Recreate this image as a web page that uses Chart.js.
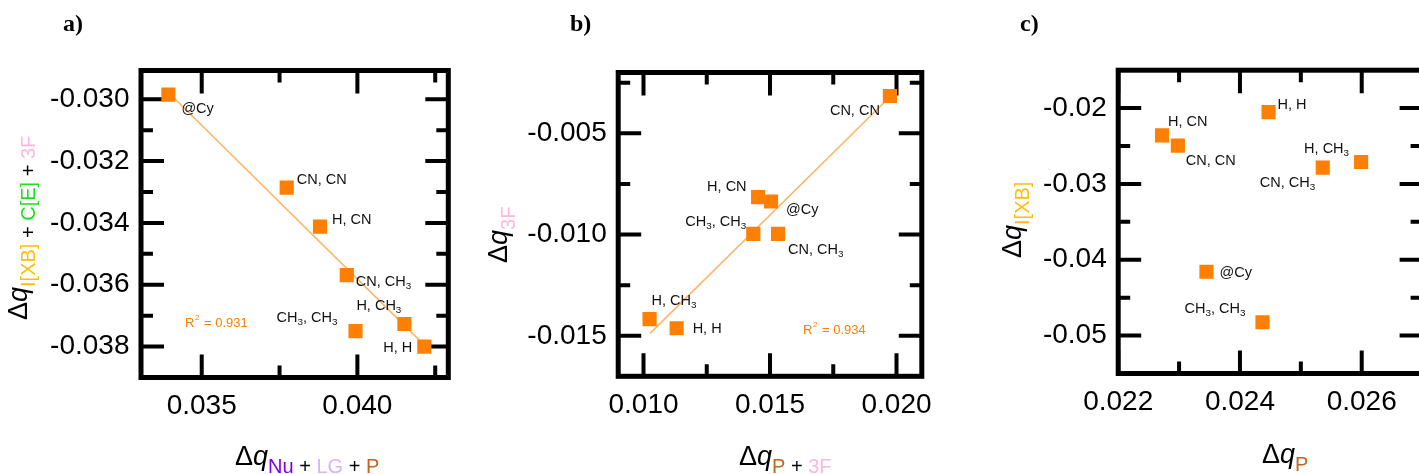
<!DOCTYPE html>
<html>
<head>
<meta charset="utf-8">
<script src="https://cdn.jsdelivr.net/npm/chart.js@4.4.0/dist/chart.umd.min.js"></script>
<style>
  html, body { margin: 0; padding: 0; background: #fff; overflow: hidden; }
  body { width: 1419px; height: 474px; position: relative; }
  canvas { position: absolute; top: 0; }
  #chartA { left: 0; }
  #chartB { left: 470px; }
  #chartC { left: 950px; }
</style>
</head>
<body>
<canvas id="chartA" width="470" height="474"></canvas>
<canvas id="chartB" width="480" height="474"></canvas>
<canvas id="chartC" width="500" height="474"></canvas>
<script>
// a) total charge transfer vs Nu + LG + P
const namesA = ['@Cy', 'CN, CN', 'H, CN', 'CN, CH_3', 'CH_3, CH_3', 'H, CH_3', 'H, H'];
const xA = [0.03393, 0.03773, 0.03880, 0.03966, 0.03994, 0.04151, 0.04215];
const yA = [-0.02985, -0.03286, -0.03412, -0.03569, -0.03750, -0.03727, -0.03800];
const fitXA = [0.03390, 0.04220];
const fitYA = [-0.02975, -0.03800];
const xTicksA = [0.035, 0.040];
const xMinorA = [0.0375, 0.0425];
const yTicksA = [-0.030, -0.032, -0.034, -0.036, -0.038];
const yMinorA = [-0.031, -0.033, -0.035, -0.037];
const r2A = '0.931';

// b) 3F vs P + 3F
const namesB = ['CN, CN', 'H, CN', '@Cy', 'CH_3, CH_3', 'CN, CH_3', 'H, CH_3', 'H, H'];
const xB = [0.01974, 0.01453, 0.01504, 0.01434, 0.01532, 0.01024, 0.01131];
const yB = [-0.00316, -0.00815, -0.00837, -0.00997, -0.00997, -0.01418, -0.01463];
const fitXB = [0.01026, 0.01968];
const fitYB = [-0.01488, -0.00327];
const xTicksB = [0.010, 0.015, 0.020];
const xMinorB = [0.0125, 0.0175];
const yTicksB = [-0.005, -0.010, -0.015];
const yMinorB = [-0.0025, -0.0075, -0.0125];
const r2B = '0.934';

// c) I[XB] vs P
const namesC = ['H, H', 'H, CN', 'CN, CN', 'H, CH_3', 'CN, CH_3', '@Cy', 'CH_3, CH_3'];
const xC = [0.02447, 0.02272, 0.02298, 0.02599, 0.02536, 0.02345, 0.02437];
const yC = [-0.02053, -0.02359, -0.02495, -0.02710, -0.02784, -0.04158, -0.04824];
const xTicksC = [0.022, 0.024, 0.026];
const xMinorC = [0.023, 0.025];
const yTicksC = [-0.02, -0.03, -0.04, -0.05];
const yMinorC = [-0.025, -0.035, -0.045];

const SANS = '"Liberation Sans", Arial, sans-serif';
const ORANGE = '#ff7f00';

// text with "_x" subscripts, e.g. CH_3
function richText(ctx, str, x, y, size, color) {
  const parts = str.split(/_(\d)/);
  ctx.fillStyle = color;
  ctx.textBaseline = 'middle';
  ctx.textAlign = 'left';
  let cx = x;
  parts.forEach((s, i) => {
    if (!s) return;
    const sub = i % 2 === 1;
    ctx.font = (sub ? size * 0.68 : size) + 'px ' + SANS;
    ctx.fillText(s, cx, sub ? y + size * 0.3 : y);
    cx += ctx.measureText(s).width;
  });
}

// axis title: main "Δq" then coloured subscript pieces
function drawTitle(ctx, segs, x, y, rotate) {
  ctx.save();
  ctx.translate(x, y);
  if (rotate) ctx.rotate(-Math.PI / 2);
  ctx.textBaseline = 'alphabetic';
  ctx.textAlign = 'left';
  let cx = 0;
  segs.forEach(([s, kind, color]) => {
    if (kind === 'sub') ctx.font = '20px ' + SANS;
    else if (kind === 'it') ctx.font = 'italic 27px ' + SANS;
    else ctx.font = '27px ' + SANS;
    ctx.fillStyle = color;
    ctx.fillText(s, cx, kind === 'sub' ? 8 : 0);
    cx += ctx.measureText(s).width;
  });
  ctx.restore();
}

const frameTicks = {
  id: 'frameTicks',
  beforeDatasetsDraw(chart) {
    const p = chart.options.plugins.notes;
    const { ctx, chartArea: a, scales: { x, y } } = chart;
    ctx.save();
    ctx.strokeStyle = '#000';
    ctx.lineWidth = 4;
    const vt = (vals, len) => vals.forEach(v => {
      const px = x.getPixelForValue(v);
      ctx.beginPath();
      ctx.moveTo(px, a.bottom); ctx.lineTo(px, a.bottom - len);
      ctx.moveTo(px, a.top); ctx.lineTo(px, a.top + len);
      ctx.stroke();
    });
    const ht = (vals, len) => vals.forEach(v => {
      const py = y.getPixelForValue(v);
      ctx.beginPath();
      ctx.moveTo(a.left, py); ctx.lineTo(a.left + len, py);
      ctx.moveTo(a.right, py); ctx.lineTo(a.right - len, py);
      ctx.stroke();
    });
    vt(p.xTicks, 23); vt(p.xMinor, 12);
    ht(p.yTicks, 23); ht(p.yMinor, 12);
    ctx.lineWidth = 5;
    ctx.strokeRect(a.left, a.top, a.right - a.left, a.bottom - a.top);
    ctx.restore();
  }
};

const notes = {
  id: 'notes',
  afterDatasetsDraw(chart) {
    const p = chart.options.plugins.notes;
    const { ctx, scales: { x, y } } = chart;
    ctx.save();
    p.names.forEach((n, i) => {
      const px = x.getPixelForValue(p.xs[i]);
      const py = y.getPixelForValue(p.ys[i]);
      richText(ctx, n, px + p.offsets[i][0], py + p.offsets[i][1], 14.5, '#111');
    });
    if (p.r2) {
      const [rx, ry] = p.r2At;
      ctx.fillStyle = ORANGE;
      ctx.textBaseline = 'middle';
      ctx.font = '13px ' + SANS;
      ctx.fillText('R', rx, ry);
      let cx = rx + ctx.measureText('R').width + 0.5;
      ctx.font = '8px ' + SANS;
      ctx.fillText('2', cx, ry - 5);
      cx += ctx.measureText('2').width + 1;
      ctx.font = '13px ' + SANS;
      ctx.fillText(' = ' + p.r2, cx, ry);
    }
    drawTitle(ctx, p.xTitle, p.xTitleAt[0], p.xTitleAt[1], false);
    drawTitle(ctx, p.yTitle, p.yTitleAt[0], p.yTitleAt[1], true);
    ctx.fillStyle = '#000';
    ctx.font = 'bold 24px "Liberation Serif", "Times New Roman", serif';
    ctx.textBaseline = 'alphabetic';
    ctx.fillText(p.letter, p.letterAt[0], p.letterAt[1]);
    ctx.restore();
  }
};

function makePanel(id, p) {
  const canvas = document.getElementById(id);
  const datasets = [{
    data: p.xs.map((v, i) => ({ x: v, y: p.ys[i] })),
    pointStyle: 'rect',
    pointRadius: 10,
    pointHoverRadius: 10,
    backgroundColor: ORANGE,
    borderWidth: 0,
    order: 1
  }];
  if (p.fitX) {
    datasets.push({
      type: 'line',
      data: p.fitX.map((v, i) => ({ x: v, y: p.fitY[i] })),
      borderColor: '#ffb46a',
      borderWidth: 1.6,
      pointRadius: 0,
      order: 2
    });
  }
  const tickFont = { family: SANS, size: 28 };
  return new Chart(canvas, {
    type: 'scatter',
    data: { datasets },
    options: {
      responsive: false,
      animation: false,
      events: [],
      layout: { padding: { left: 0, top: p.area.top, right: canvas.width - p.area.right, bottom: 0 } },
      plugins: { legend: { display: false }, tooltip: { enabled: false }, notes: p },
      scales: {
        x: {
          min: p.xMin, max: p.xMax,
          grid: { display: false, drawTicks: false },
          border: { display: false },
          ticks: { font: tickFont, color: '#000', padding: 12, maxRotation: 0,
                   callback: v => v.toFixed(p.xDec) },
          afterBuildTicks: s => { s.ticks = p.xTicks.map(v => ({ value: v })); },
          afterFit: s => { s.height = canvas.height - p.area.bottom; }
        },
        y: {
          min: p.yMin, max: p.yMax,
          grid: { display: false, drawTicks: false },
          border: { display: false },
          ticks: { font: tickFont, color: '#000', padding: 11.5,
                   callback: v => v.toFixed(p.yDec) },
          afterBuildTicks: s => { s.ticks = p.yTicks.map(v => ({ value: v })); },
          afterFit: s => { s.width = p.area.left; }
        }
      }
    },
    plugins: [frameTicks, notes]
  });
}

const K = '#000';
const chartA = makePanel('chartA', {
  names: namesA, xs: xA, ys: yA, fitX: fitXA, fitY: fitYA,
  xTicks: xTicksA, xMinor: xMinorA, yTicks: yTicksA, yMinor: yMinorA,
  xMin: 0.03305, xMax: 0.04292, yMin: -0.0390, yMax: -0.02907, xDec: 3, yDec: 3,
  area: { left: 141, top: 70.5, right: 448.3, bottom: 377.5 },
  offsets: [[13, 14], [10, -8], [12, -7], [9, 7], [-79, -13], [-48, -18], [-41, 1]],
  r2: r2A, r2At: [185, 323],
  xTitle: [['Δ', 'm', K], ['q', 'it', K], ['Nu', 'sub', '#7d00e8'], [' + ', 'sub', K],
           ['LG', 'sub', '#d8b4fb'], [' + ', 'sub', K], ['P', 'sub', '#c4631a']],
  xTitleAt: [235, 465],
  yTitle: [['Δ', 'm', K], ['q', 'it', K], ['I[XB]', 'sub', '#ffbe0d'], [' + ', 'sub', K],
           ['C[E]', 'sub', '#22dd22'], [' + ', 'sub', K], ['3F', 'sub', '#ffb6dc']],
  yTitleAt: [27, 320],
  letter: 'a)', letterAt: [63, 31]
});

const chartB = makePanel('chartB', {
  names: namesB, xs: xB, ys: yB, fitX: fitXB, fitY: fitYB,
  xTicks: xTicksB, xMinor: xMinorB, yTicks: yTicksB, yMinor: yMinorB,
  xMin: 0.009, xMax: 0.021, yMin: -0.017, yMax: -0.002, xDec: 3, yDec: 3,
  area: { left: 148.2, top: 72.5, right: 451.8, bottom: 376.3 },
  offsets: [[-60, 15], [-51, -10], [15, 8], [-68, -12], [10, 16], [2, -18], [16, 1]],
  r2: r2B, r2At: [333, 330],
  xTitle: [['Δ', 'm', K], ['q', 'it', K], ['P', 'sub', '#c4631a'], [' + ', 'sub', K],
           ['3F', 'sub', '#ffb6dc']],
  xTitleAt: [269, 465],
  yTitle: [['Δ', 'm', K], ['q', 'it', K], ['3F', 'sub', '#ffb6dc']],
  yTitleAt: [37, 263],
  letter: 'b)', letterAt: [100, 31]
});

const chartC = makePanel('chartC', {
  names: namesC, xs: xC, ys: yC,
  xTicks: xTicksC, xMinor: xMinorC, yTicks: yTicksC, yMinor: yMinorC,
  xMin: 0.022, xMax: 0.027, yMin: -0.055, yMax: -0.015, xDec: 3, yDec: 2,
  area: { left: 168.2, top: 70.2, right: 472.6, bottom: 373.5 },
  offsets: [[9, -7], [6, -13], [8, 15], [-57, -13], [-63, 15], [13, 1], [-78, -13]],
  xTitle: [['Δ', 'm', K], ['q', 'it', K], ['P', 'sub', '#c4631a']],
  xTitleAt: [312, 463],
  yTitle: [['Δ', 'm', K], ['q', 'it', K], ['I[XB]', 'sub', '#ffbe0d']],
  yTitleAt: [71, 258],
  letter: 'c)', letterAt: [70, 31]
});
</script>
</body>
</html>
